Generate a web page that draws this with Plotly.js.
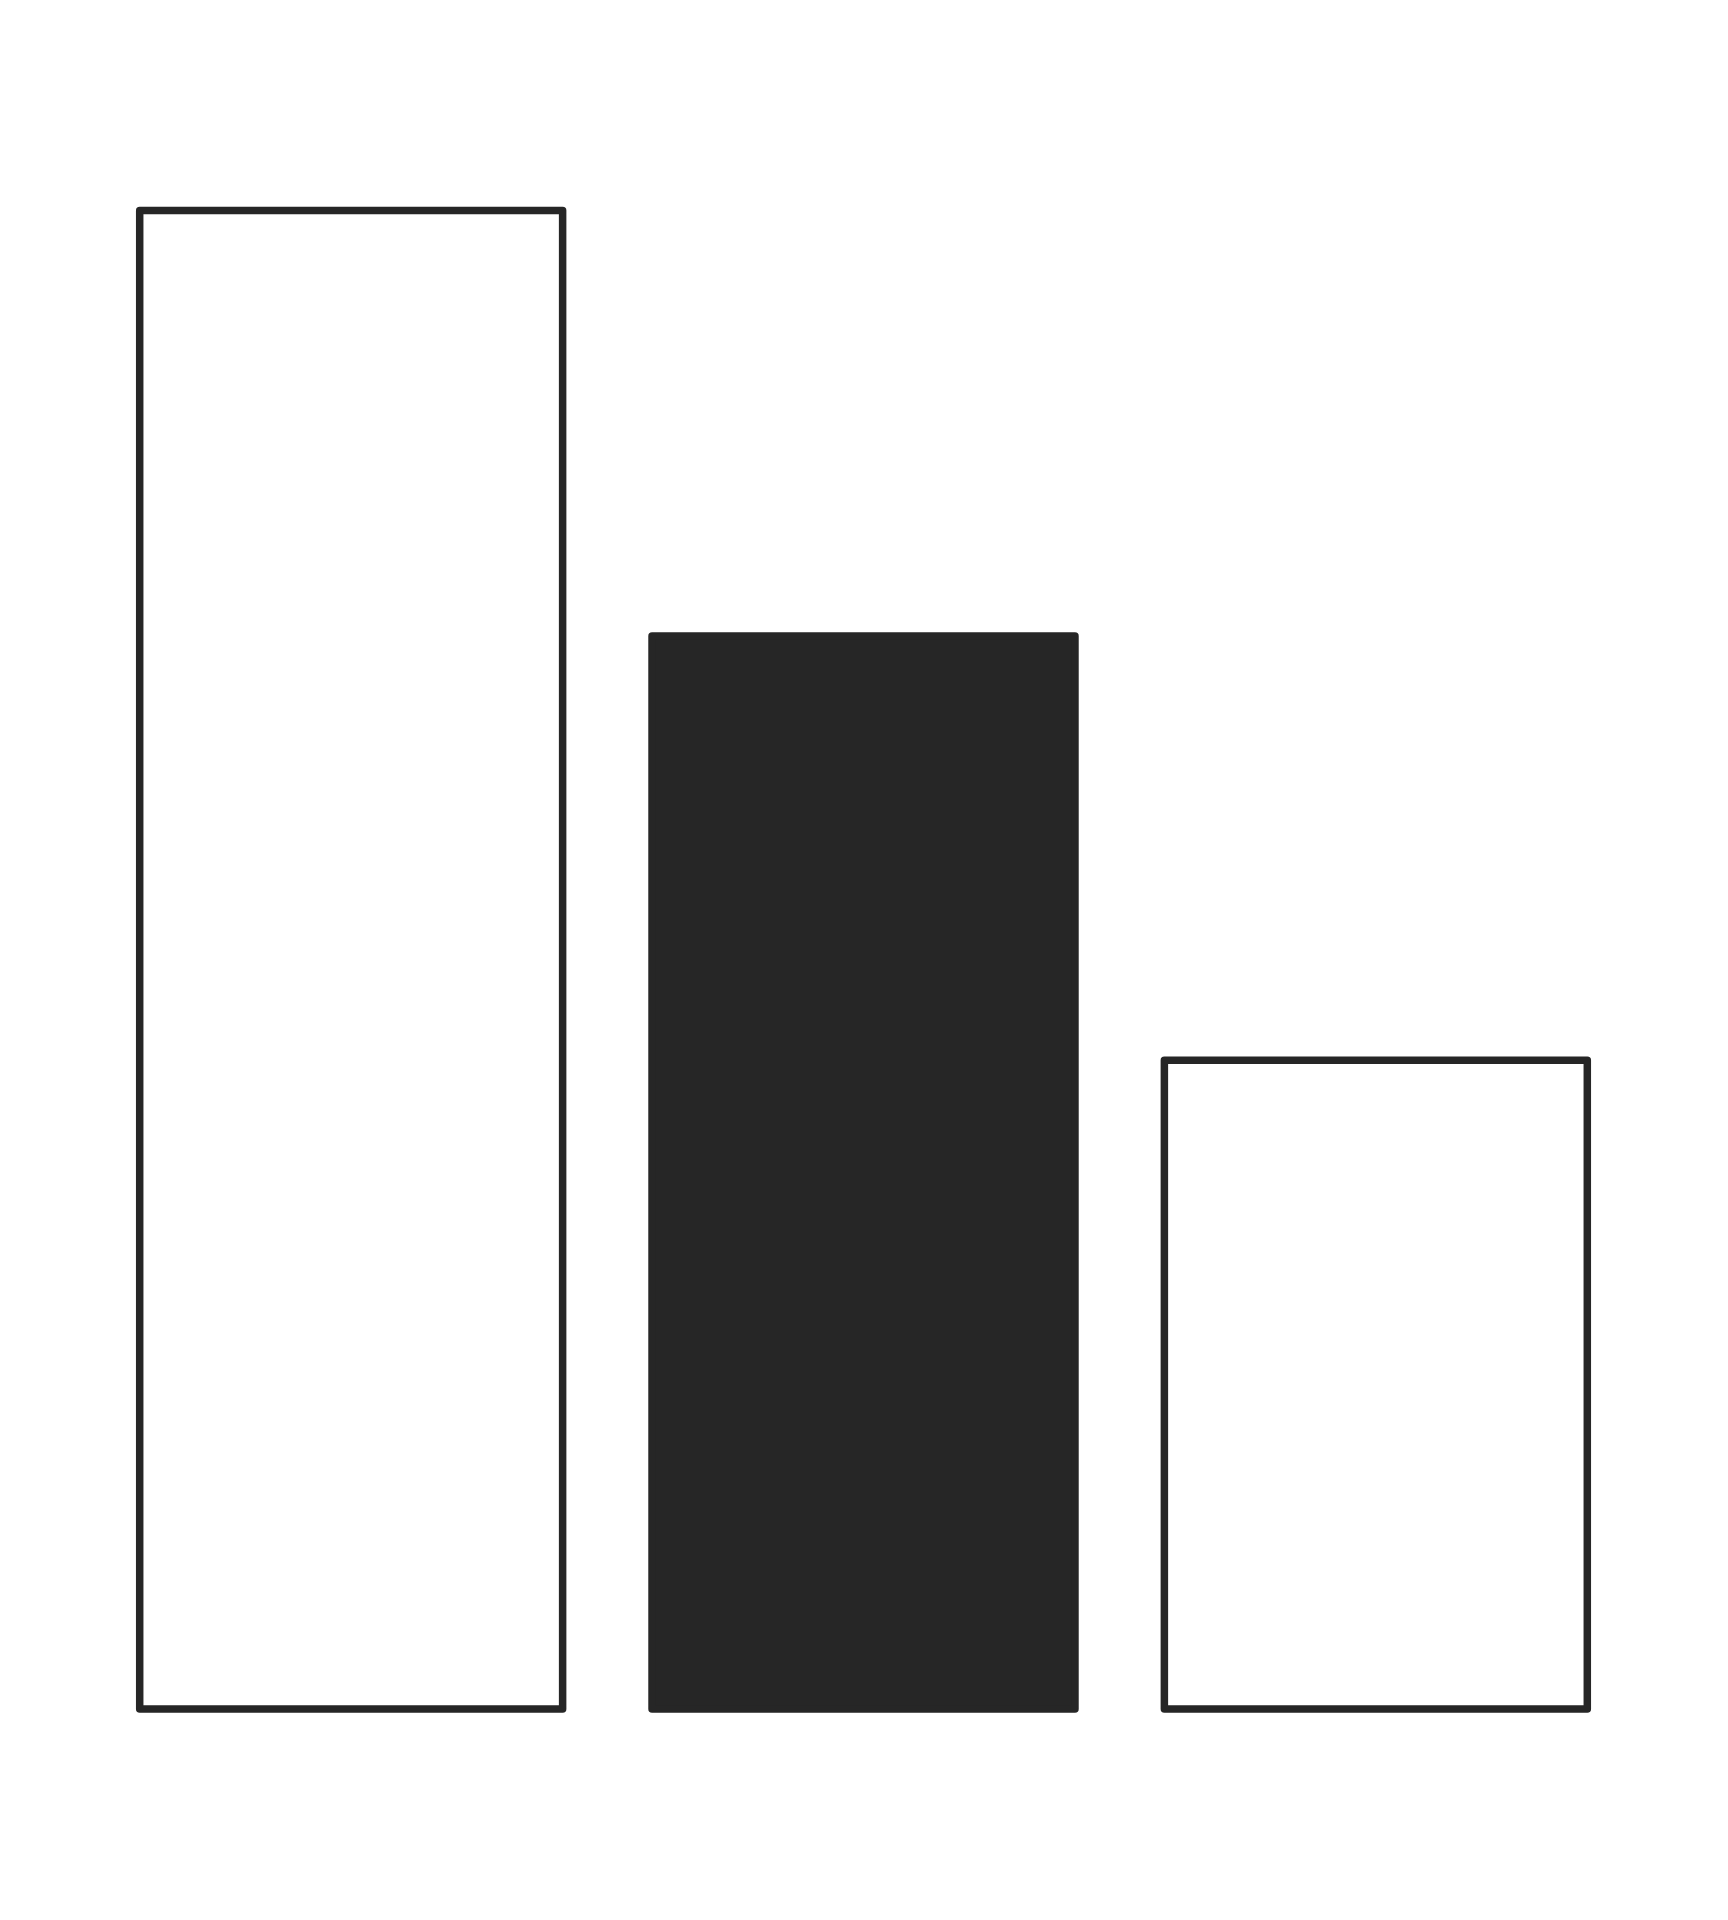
<!DOCTYPE html>
<html>
<head>
<meta charset="utf-8">
<script src="https://cdn.plot.ly/plotly-3.0.1.min.js"></script>
<style>
  html, body { margin: 0; padding: 0; background: #ffffff; }
  #chart { width: 1728px; height: 1920px; }
  .barlayer path { stroke-linejoin: round; }
</style>
</head>
<body>
<div id="chart"></div>
<script>
// Data (relative heights)
const categories = ['A', 'B', 'C'];
const values = [100, 71.6, 43.3];
const fillColors = ['#ffffff', '#262626', '#ffffff'];
const strokeColor = '#262626';

const trace = {
  type: 'bar',
  x: categories,
  y: values,
  marker: {
    color: fillColors,
    line: { color: strokeColor, width: 7.5 }
  },
  hoverinfo: 'skip'
};

const layout = {
  width: 1728,
  height: 1920,
  margin: { l: 95, r: 96, t: 100, b: 150 },
  paper_bgcolor: '#ffffff',
  plot_bgcolor: '#ffffff',
  bargap: 0.1745,
  showlegend: false,
  xaxis: {
    type: 'category',
    range: [-0.5, 2.5],
    visible: false,
    showgrid: false,
    zeroline: false,
    fixedrange: true
  },
  yaxis: {
    range: [-4.07, 107.37],
    visible: false,
    showgrid: false,
    zeroline: false,
    fixedrange: true
  }
};

Plotly.newPlot('chart', [trace], layout, { displayModeBar: false, staticPlot: true });
</script>
</body>
</html>
